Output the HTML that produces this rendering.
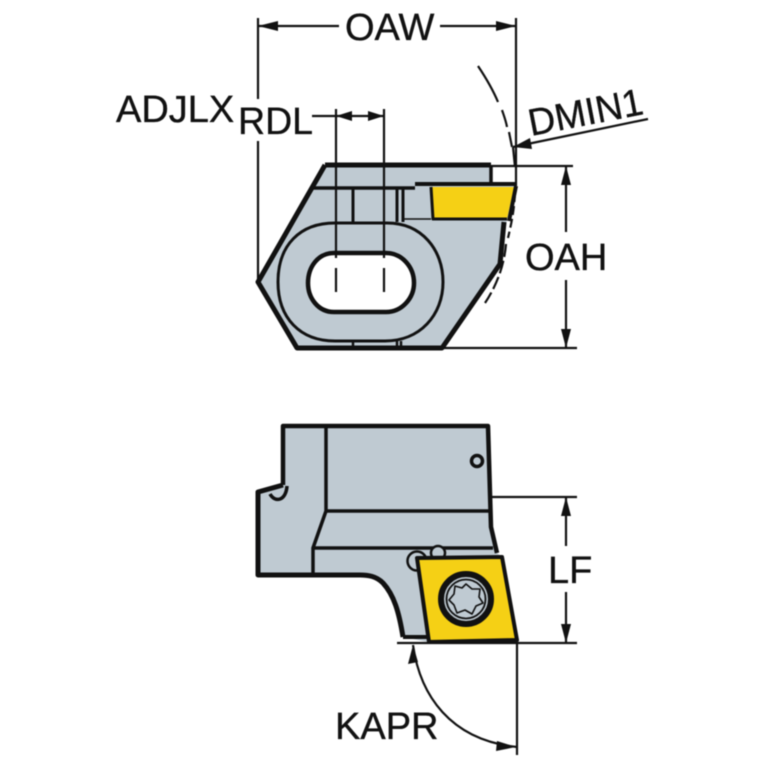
<!DOCTYPE html>
<html>
<head>
<meta charset="utf-8">
<style>
html,body{margin:0;padding:0;background:#fff}
svg{display:block;filter:blur(0.45px)}
text{font-family:"Liberation Sans",sans-serif;font-size:38px;fill:#111;stroke:#111;stroke-width:0.35px}
</style>
</head>
<body>
<svg width="767" height="767" viewBox="0 0 767 767" xmlns="http://www.w3.org/2000/svg">
<g fill="none" stroke="#111" stroke-linejoin="round" stroke-linecap="butt">
<!-- top view -->
<path d="M325 165L491 165L491 184L517 184L507 220L500 265L442 348L297 348L258 282Z" fill="#bfcad2" stroke="none"/>
<path d="M278 282C278 245 300 223 335 223L387 223C422 223 443 250 443 282C443 315 420 341 385 341L335 341C300 341 278 318 278 282Z" fill="#bfcad2" stroke-width="3"/>
<path d="M430 187L514 187L507 219L433 219Z" fill="#f5d015" stroke="none"/>
<path d="M325 165L491 165" stroke-width="5"/>
<path d="M491 165L491 184" stroke-width="3.5"/>
<path d="M325 165L258 282L297 348L442 348L500 264L504 222" stroke-width="5"/>
<path d="M516 186L509 221" stroke-width="4"/>
<path d="M312 188L415 188" stroke-width="3.5"/>
<path d="M415 184L517 184" stroke-width="4"/>
<path d="M353 188V222M397 188V222M403 188V222" stroke-width="3"/>
<path d="M431 187L433 219L507 219" stroke-width="3"/>
<path d="M403 219H431" stroke-width="1.5"/>
<path d="M353 341V348M397 341V348M401 341V348" stroke-width="2.5"/>
<path d="M334 253L386 253C402 253 414 267 414 283C414 298 402 312 386 312L334 312C318 312 308 298 308 283C308 267 318 253 334 253Z" fill="#fff" stroke-width="4.5"/>
<!-- top dims -->
<g stroke-width="2.2">
<path d="M258 18V99M258 141V282"/>
<path d="M516 18V186"/>
<path d="M258 26H339M440 26H516"/>
<path d="M312 116H384M336 109V258M384 109V258"/>
<path d="M336 268V292M384 268V292"/>
<path d="M491 166H573M442 348H577"/>
<path d="M566 166V232M566 280V348"/>
<path d="M513 147L648 119"/>
<path d="M478 66C486 78 493 90 498 102"/>
<path d="M502 110C504 116 506 121 507 127"/>
<path d="M509 132C510 137 511 142 512 147"/>
<path d="M513 147L515 167"/>
<path d="M515 193C514 212 511 225 508 238" stroke-dasharray="9 4"/>
<path d="M506 244C504 268 495 288 485 303" stroke-dasharray="13 4"/>
</g>
<!-- bottom view -->
<path d="M283 426L488 426L491 527L497 553L502 557L428 642L403 637C399 612 394 595 383 583C375 576 368 575 360 575L258 575L258 492L283 485Z" fill="#bfcad2" stroke="none"/>
<path d="M403 637H428" stroke-width="4"/>
<path d="M497 553L491 527L488 426L283 426L283 485" stroke-width="4.5"/>
<path d="M283 485L258 492L258 575L360 575C368 575 376 576 383 583C394 595 399 612 403 637" stroke-width="5"/>
<path d="M270 494C275 503 286 501 287 486" stroke-width="3.5"/>
<path d="M326 426V511H490M326 511L313 548H493M313 548V575" stroke-width="3.5"/>
<circle cx="477" cy="461" r="5.5" stroke-width="3.5"/>
<circle cx="417" cy="561" r="9.5" fill="#bfcad2" stroke-width="2.5"/>
<circle cx="438" cy="553" r="7" fill="#bfcad2" stroke-width="2.5"/>
<path d="M417 558L502 557L517 640L429 642Z" fill="#f5d015" stroke-width="4"/>
<circle cx="466" cy="599" r="25" fill="#bfcad2" stroke-width="6"/>
<circle cx="466" cy="599" r="19.5" stroke-width="1.8"/>
<path d="M466 584L472 589L480 589L479 597L483 603L476 606L472 614L465 610L457 613L454 605L449 600L454 594L455 586L462 588Z" stroke-width="1.6"/>
<!-- bottom dims -->
<g stroke-width="2.2">
<path d="M491 497H577M397 643H577"/>
<path d="M566 497V546M566 592V643"/>
<path d="M517 640V755"/>
<path d="M413 645C420 695 450 740 517 747"/>
</g>
</g>
<!-- arrowheads -->
<g fill="#111">
<path d="M258 26L278 21V31Z"/>
<path d="M516 26L496 21V31Z"/>
<path d="M336 116L352 111V121Z"/>
<path d="M384 116L368 111V121Z"/>
<path d="M513 147L530 138L532 149Z"/>
<path d="M566 166L561 185H571Z"/>
<path d="M566 348L561 329H571Z"/>
<path d="M566 497L561 516H571Z"/>
<path d="M566 643L561 624H571Z"/>
<path d="M413 645L408 664L418 662Z"/>
<path d="M516 747L497 741L496 751Z"/>
</g>
<!-- labels -->
<text x="345" y="40">OAW</text>
<text x="116" y="122">ADJLX</text>
<text x="238" y="134" textLength="75" lengthAdjust="spacingAndGlyphs">RDL</text>
<text x="531" y="136" transform="rotate(-11 531 136)" textLength="116" lengthAdjust="spacingAndGlyphs">DMIN1</text>
<text x="525" y="270">OAH</text>
<text x="548" y="583">LF</text>
<text x="335" y="739">KAPR</text>
</svg>
</body>
</html>
